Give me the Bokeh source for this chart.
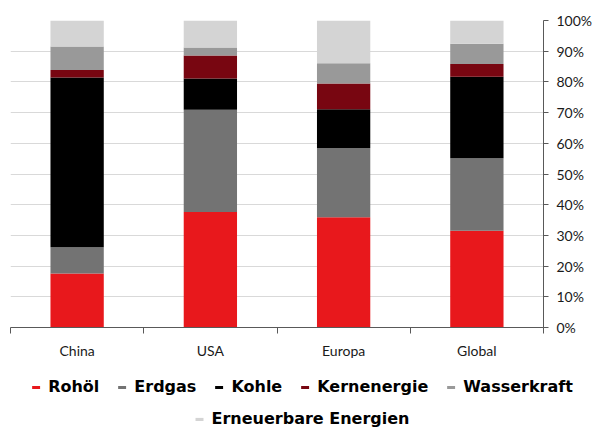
from bokeh.plotting import figure
from bokeh.layouts import column
from bokeh.models import (Range1d, FixedTicker, PrintfTickFormatter, Legend, LegendItem,
                          ColumnDataSource)
from bokeh.embed import file_html
from bokeh.resources import INLINE

# Energy mix shares (percent of primary energy) per region
categories = ["China", "USA", "Europa", "Global"]
series = ["Rohöl", "Erdgas", "Kohle", "Kernenergie", "Wasserkraft", "Erneuerbare Energien"]
rohoel = [17.6, 37.6, 35.9, 31.5]
erdgas = [8.5, 33.3, 22.6, 23.6]
kohle = [55.3, 10.2, 12.6, 26.6]
kernenergie = [2.5, 7.5, 8.4, 4.1]
wasserkraft = [7.6, 2.6, 6.6, 6.6]
erneuerbare = [8.5, 8.8, 13.9, 7.6]
y_ticks = list(range(0, 101, 10))

colors = ["#E8181C", "#737373", "#000000", "#780611", "#999999", "#D4D4D4"]
FONT = "Lato"
LEGEND_FONT = "DejaVu Sans"

centers = [i + 0.5 for i in range(len(categories))]
source = ColumnDataSource(dict(
    x=centers,
    **{s: v for s, v in zip(series, [rohoel, erdgas, kohle, kernenergie, wasserkraft, erneuerbare])}
))

p = figure(x_range=Range1d(0, len(categories)), y_range=Range1d(0, 100),
           frame_width=533, frame_height=307,
           y_axis_location="right", x_axis_location="below",
           output_backend="svg", toolbar_location=None,
           min_border_left=10, min_border_top=20, min_border_right=0, min_border_bottom=33)
p.outline_line_color = None
p.background_fill_color = "white"

p.vbar_stack(series, x="x", width=0.4, source=source, fill_color=colors, line_color=None)

# horizontal grid
p.xgrid.visible = False
p.ygrid.grid_line_color = "#D9D9D9"
p.ygrid.grid_line_width = 1

# right percentage axis
yax = p.yaxis[0]
yax.ticker = FixedTicker(ticks=y_ticks, minor_ticks=[])
yax.formatter = PrintfTickFormatter(format="%d%%")
yax.axis_line_color = "#595959"
yax.major_tick_line_color = "#595959"
yax.major_tick_out = 5
yax.major_tick_in = 0
yax.major_label_standoff = 8
yax.major_label_text_font = FONT
yax.major_label_text_font_size = "14px"
yax.major_label_text_color = "#1a1a1a"

# category axis: labels at centres, ticks at category boundaries
xax = p.xaxis[0]
xax.ticker = FixedTicker(ticks=centers, minor_ticks=list(range(len(categories) + 1)))
xax.major_label_overrides = {c: cat for c, cat in zip(centers, categories)}
xax.major_tick_line_color = None
xax.minor_tick_line_color = "#595959"
xax.minor_tick_out = 6
xax.minor_tick_in = 0
xax.axis_line_color = "#595959"
xax.major_label_standoff = 8
xax.major_label_text_font = FONT
xax.major_label_text_font_size = "14px"
xax.major_label_text_color = "#1a1a1a"

# legend strip below the chart (its stacked bars sit outside the visible range)
lg = figure(x_range=Range1d(0, len(categories)), y_range=Range1d(200, 300),
            frame_width=603, frame_height=67,
            x_axis_location=None, y_axis_location=None,
            output_backend="svg", toolbar_location=None, min_border=0)
lg.outline_line_color = None
lg.grid.visible = False
legend_renderers = lg.vbar_stack(series, x="x", width=0.4, source=source,
                                 fill_color=colors, line_color=None)


def make_legend(items, loc, margin):
    return Legend(items=items, orientation="horizontal", location=loc,
                  label_text_font=LEGEND_FONT, label_text_font_size="16px",
                  label_text_font_style="bold", label_text_color="#000000",
                  glyph_width=10, glyph_height=4, label_standoff=8, spacing=17,
                  padding=2, margin=margin, border_line_color=None,
                  background_fill_alpha=0)


items = [LegendItem(label=s, renderers=[r]) for s, r in zip(series, legend_renderers)]
lg.add_layout(make_legend(items[:5], "top_center", 16))
lg.add_layout(make_legend(items[5:], "bottom_center", 0))

open("out.html", "w").write(file_html(column(p, lg, spacing=0), INLINE))
